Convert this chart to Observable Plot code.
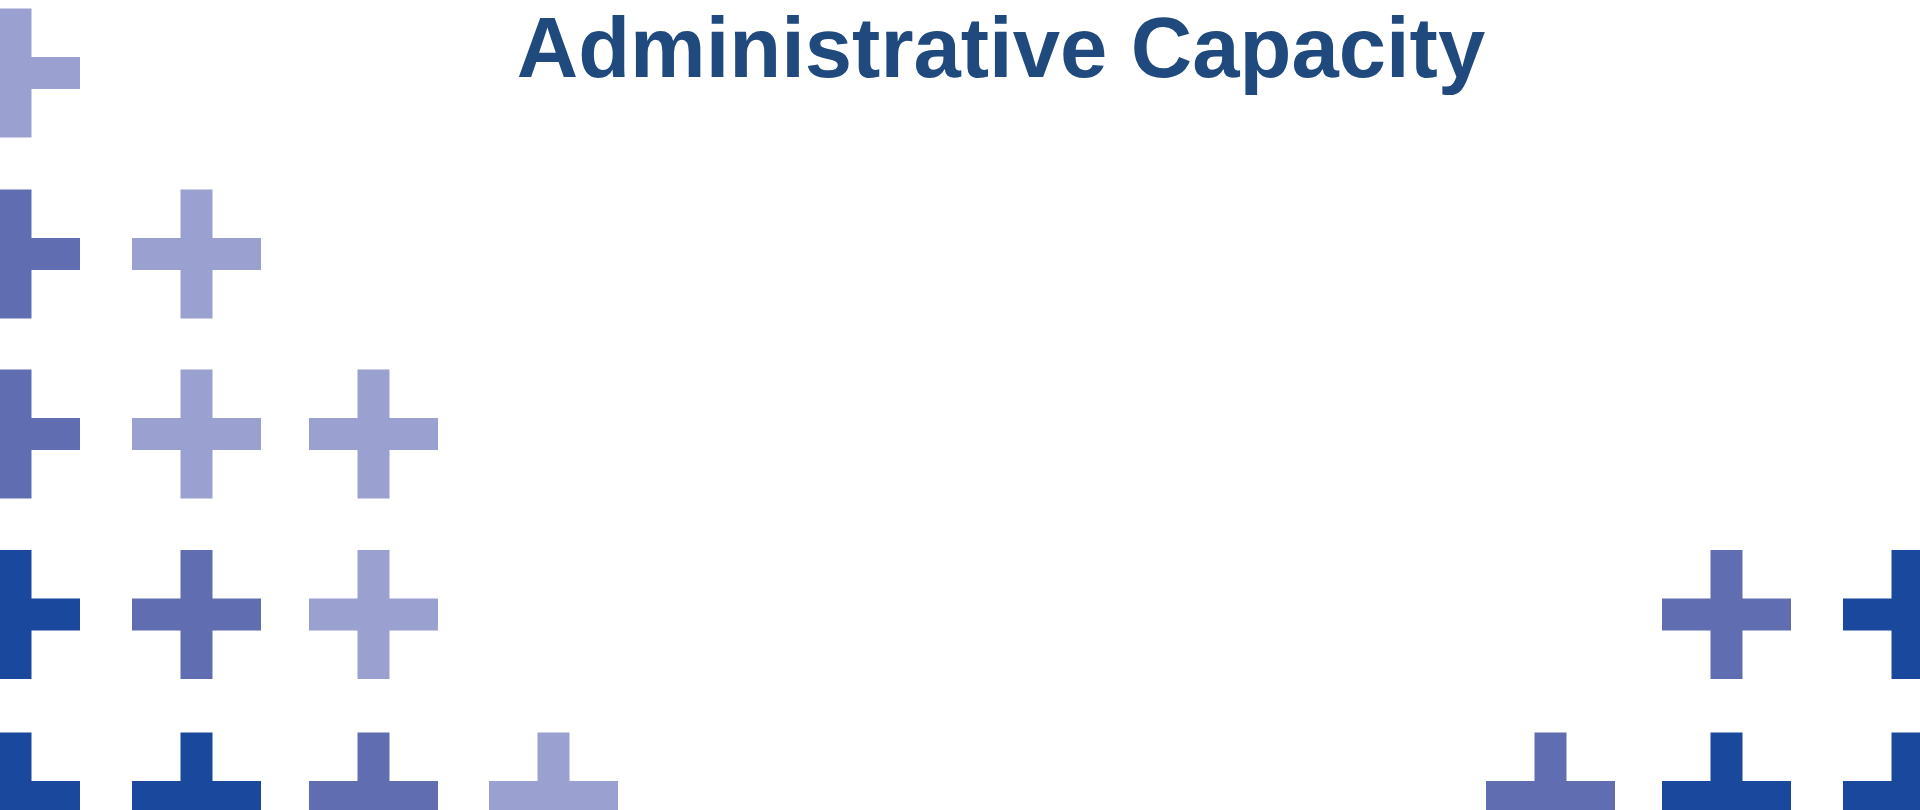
<!DOCTYPE html>
<html>
<head>
<meta charset="utf-8">
<script src="https://cdn.jsdelivr.net/npm/d3@7"></script>
<script src="https://cdn.jsdelivr.net/npm/@observablehq/plot@0.6"></script>
<style>
  html, body { margin: 0; padding: 0; background: #ffffff; overflow: hidden; }
  #wrap { position: relative; width: 1920px; height: 810px; }
  #title {
    position: absolute; top: 0px; left: 82px; width: 1838px;
    text-align: center; font-family: "Liberation Sans", Arial, sans-serif;
    font-weight: bold; font-size: 85px; line-height: 96px; color: #204a7e;
    white-space: nowrap; pointer-events: none;
  }
</style>
</head>
<body>
<div id="wrap">
  <div id="chart"></div>
  <div id="title">Administrative Capacity</div>
</div>
<script>
// Decorative grid of plus signs: row positions, column positions and shade per cell
const rowsY = [72.5, 253.5, 433.5, 614, 796.5];
const leftColsX = [15, 196, 373, 553];
const rightColsX = [1550, 1726, 1907];
const leftShades = [
  ["light"],
  ["medium", "light"],
  ["medium", "light", "light"],
  ["dark", "medium", "light"],
  ["dark", "dark", "medium", "light"]
];
const rightShades = [
  [null, null, null],
  [null, null, null],
  [null, null, null],
  [null, "medium", "dark"],
  ["medium", "dark", "dark"]
];
const shadeNames = ["light", "medium", "dark"];
const shadeColors = ["#9aa0cf", "#606db0", "#19489c"];

const cells = [];
rowsY.forEach((y, i) => {
  leftShades[i].forEach((s, j) => { if (s) cells.push({x: leftColsX[j], y, shade: s}); });
  rightShades[i].forEach((s, j) => { if (s) cells.push({x: rightColsX[j], y, shade: s}); });
});

const plusSymbol = {
  draw(context, size) {
    const r = Math.sqrt(size / Math.PI);
    const t = r * 0.248;
    context.moveTo(-t, -r);
    context.lineTo(t, -r);
    context.lineTo(t, -t);
    context.lineTo(r, -t);
    context.lineTo(r, t);
    context.lineTo(t, t);
    context.lineTo(t, r);
    context.lineTo(-t, r);
    context.lineTo(-t, t);
    context.lineTo(-r, t);
    context.lineTo(-r, -t);
    context.lineTo(-t, -t);
    context.closePath();
  }
};

const chart = Plot.plot({
  width: 1920,
  height: 810,
  margin: 0,
  style: {background: "transparent"},
  x: {domain: [0, 1920], range: [0, 1920], axis: null},
  y: {domain: [0, 810], range: [0, 810], axis: null},
  color: {domain: shadeNames, range: shadeColors},
  marks: [
    Plot.dot(cells, {x: "x", y: "y", fill: "shade", r: 64.5, symbol: plusSymbol, stroke: "none"})
  ]
});
document.getElementById("chart").appendChild(chart);
</script>
</body>
</html>
